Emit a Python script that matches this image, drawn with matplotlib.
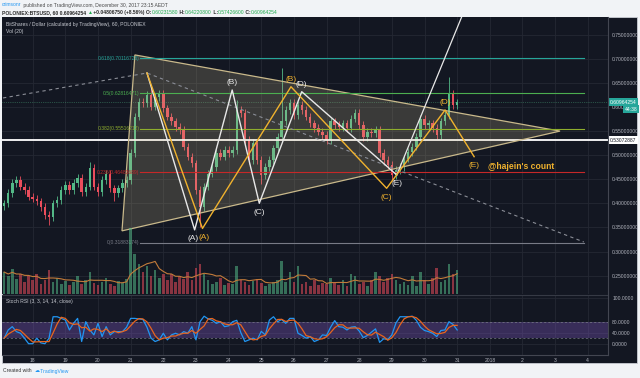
import matplotlib
matplotlib.use("Agg")
import matplotlib.pyplot as plt
from matplotlib.patches import Polygon, Rectangle
from matplotlib.lines import Line2D
import numpy as np
import pandas as pd

plt.rcParams['font.family'] = ['Liberation Sans', 'DejaVu Sans']

# ---------------- data ----------------
T0, STEP = 17.125, 0.125          # first candle (day of Dec 2017), 3h candles
FIRST_OPEN = 0.395
CLOSE = [
    0.400, 0.421, 0.442, 0.449, 0.435, 0.428, 0.414, 0.410,
    0.404, 0.393, 0.376, 0.372, 0.400, 0.407, 0.428, 0.438,
    0.428, 0.442, 0.452, 0.424, 0.435, 0.473, 0.435, 0.424,
    0.449, 0.462, 0.431, 0.421, 0.431, 0.442, 0.449, 0.504,
    0.580, 0.611, 0.608, 0.625, 0.601, 0.621, 0.628, 0.597,
    0.580, 0.570, 0.559, 0.552, 0.518, 0.497, 0.483, 0.428,
    0.393, 0.435, 0.462, 0.476, 0.504, 0.497, 0.511, 0.504,
    0.511, 0.594, 0.587, 0.532, 0.490, 0.525, 0.490, 0.459,
    0.476, 0.490, 0.514, 0.538, 0.570, 0.594, 0.608, 0.583,
    0.604, 0.594, 0.580, 0.566, 0.556, 0.549, 0.542, 0.532,
    0.570, 0.563, 0.559, 0.566, 0.556, 0.576, 0.587, 0.563,
    0.538, 0.549, 0.545, 0.552, 0.504, 0.490, 0.480, 0.459,
    0.469, 0.476, 0.493, 0.507, 0.518, 0.538, 0.576, 0.563,
    0.566, 0.556, 0.542, 0.570, 0.583, 0.628, 0.604, 0.6096,
]
HI_SPIKE = {68: 0.680, 109: 0.662, 36: 0.645, 57: 0.615, 21: 0.485}
LO_SPIKE = {48: 0.352, 11: 0.356, 63: 0.440, 95: 0.447, 27: 0.405}
VOLUME = [
    22, 18, 25, 15, 20, 12, 18, 14,
    20, 10, 14, 24, 12, 16, 10, 13,
    9, 12, 18, 10, 14, 22, 11, 9,
    12, 16, 10, 8, 13, 11, 15, 66,
    40, 30, 22, 28, 18, 24, 16, 20,
    14, 20, 12, 18, 15, 22, 14, 26,
    30, 20, 14, 10, 12, 16, 9, 11,
    10, 28, 14, 12, 9, 13, 15, 11,
    8, 10, 12, 14, 33, 12, 22, 12,
    28, 10, 12, 8, 14, 9, 11, 10,
    16, 12, 9, 14, 8, 20, 18, 10,
    12, 8, 14, 22, 18, 12, 16, 20,
    14, 10, 12, 9, 18, 8, 22, 14,
    10, 16, 26, 12, 14, 30, 20, 24,
]
STOCH_K = [
    20, 50, 62, 44, 38, 20, 0, 0,
    20, 3, 0, 20, 98, 98, 92, 86,
    50, 74, 92, 8, 80, 50, 32, 74,
    26, 62, 32, 44, 44, 44, 60, 92,
    92, 90, 88, 60, 20, 8, 14, 38,
    14, 32, 38, 32, 44, 38, 62, 14,
    80, 100, 90, 85, 74, 80, 62, 65,
    80, 85, 40, 8, 14, 20, 14, 45,
    32, 86, 98, 80, 88, 74, 92, 92,
    38, 30, 20, 26, 8, 14, 32, 30,
    60, 84, 62, 60, 50, 60, 62, 46,
    22, 30, 42, 54, 5, 18, 15, 32,
    75, 98, 98, 98, 100, 85, 60, 48,
    44, 38, 26, 48, 50, 80, 70, 50,
]

DAY_TICKS = list(range(18, 36))
DAY_LABELS = [str(d) for d in range(18, 32)] + ['2018', '2', '3', '4']
PRICE_TICKS = [0.25, 0.30, 0.35, 0.40, 0.45, 0.50, 0.55, 0.60, 0.65, 0.70, 0.75]
STOCH_TICKS = [0, 40, 80, 165]
STOCH_LABELS = ['0.0000', '40.0000', '80.0000', '100.0000']

TRIANGLE = [(21.13, 0.708), (20.735, 0.343), (34.15, 0.550)]
FIB_NAMES = ['0.618', '0.5', '0.382', '0.236', '0']
FIB_PRICES = [0.70116728, 0.62816471, 0.55516212, 0.46483689, 0.31883174]
FIB_COLORS = ['#26a69a', '#4caf50', '#8fae2e', '#c62828', '#787b86']
FIB_START, FIB_END = 21.3, 34.88

WAVE_DAYS_W = [21.50, 22.96, 24.11, 24.94, 26.24, 29.15]
WAVE_PRICES_W = [0.6705, 0.345, 0.6353, 0.4002, 0.6317, 0.459]
WAVE_DAYS_G = [21.50, 23.20, 25.91, 28.84, 30.63, 31.52]
WAVE_PRICES_G = [0.6705, 0.348, 0.642, 0.4313, 0.5938, 0.4969]
WAVE_LABELS = ['', '(A)', '(B)', '(C)', '(D)', '(E)']
RUN_DAYS, RUN_PRICES = [29.15, 31.4], [0.459, 0.83]
DASH_DAYS, DASH_PRICES = [17.09, 21.50, 34.88], [0.6187, 0.6705, 0.3199]
H_LEVEL = 0.53072887
LAST = 0.60964254

# ---------------- style ----------------
W, H = 640, 378
DARK = '#131722'
GRID = '#242833'
AXTXT = '#b2b5be'
UP, DOWN = '#53b987', '#eb4d5c'
TAN = '#c9b98b'
GOLD = '#f0b22e'
WHITE = '#e8e8e8'
FS = 3.6

fig = plt.figure(figsize=(W / 100, H / 100), dpi=100)
fig.patch.set_facecolor('#f1f3f6')


def px_axes(x0, y0, x1, y1):
    return fig.add_axes([x0 / W, 1 - y1 / H, (x1 - x0) / W, (y1 - y0) / H])


def fig_line(x0, y0, x1, y1, color='#363a45', lw=0.8):
    fig.add_artist(Line2D([x0 / W, x1 / W], [1 - y0 / H, 1 - y1 / H],
                          color=color, lw=lw, transform=fig.transFigure,
                          zorder=5))


def seq_text(x, y, parts, size=FS):
    r = fig.canvas.get_renderer()
    for s, color, weight in parts:
        t = fig.text(x / W, 1 - y / H, s, color=color, fontsize=size,
                     fontweight=weight, ha='left', va='center')
        x += t.get_window_extent(renderer=r).width


bg = Rectangle((2 / W, 1 - 363 / H), 635 / W, 346 / H,
               transform=fig.transFigure, facecolor=DARK,
               edgecolor='#c9ccd3', lw=0.6, zorder=-5)
fig.add_artist(bg)

# ---- main price pane ----
ax = px_axes(2, 17, 608, 294)
ax.set_facecolor(DARK)
ax.set_xlim(17.06, 35.62)
ax.set_ylim(0.2120, 0.7867)
ax.set_xticks(DAY_TICKS)
ax.set_yticks(PRICE_TICKS)
ax.yaxis.tick_right()
ax.set_yticklabels([f'{p:.8f}' for p in PRICE_TICKS])
ax.tick_params(axis='y', length=0, pad=3, labelsize=FS, labelcolor=AXTXT)
ax.tick_params(axis='x', length=0, labelbottom=False)
ax.grid(color=GRID, lw=0.6)
ax.set_axisbelow(True)
for s in ax.spines.values():
    s.set_visible(False)

c = np.array(CLOSE)
o = np.r_[FIRST_OPEN, c[:-1]]
t = T0 + STEP * np.arange(len(c))
hi = np.maximum(o, c) + 0.008
lo = np.minimum(o, c) - 0.008
for i, v in HI_SPIKE.items():
    hi[i] = v
for i, v in LO_SPIKE.items():
    lo[i] = v
col = np.where(c >= o, UP, DOWN)
ax.vlines(t, lo, hi, colors=col, lw=0.6, zorder=3)
ax.bar(t, np.maximum(np.abs(c - o), 0.002), bottom=np.minimum(o, c),
       width=0.075, color=col, zorder=3)

# horizontal lines
ax.axhline(H_LEVEL, color='white', lw=1.3, zorder=4)
ax.axhline(LAST, color=UP, lw=0.5, ls=':', alpha=0.7, zorder=4)

# triangle
ax.add_patch(Polygon(TRIANGLE, closed=True, facecolor=TAN, alpha=0.22,
                     edgecolor='none', zorder=5))
ax.add_patch(Polygon(TRIANGLE, closed=True, facecolor='none',
                     edgecolor=TAN, lw=0.9, zorder=5))

# fib retracement
for name, p, fc in zip(FIB_NAMES, FIB_PRICES, FIB_COLORS):
    ax.plot([FIB_START, FIB_END], [p, p], color=fc, lw=0.8, zorder=5)
    ax.text(FIB_START - 0.03, p, f'{name}({p:.8f})', color=fc, fontsize=FS,
            ha='right', va='center', zorder=6)

# dashed trendline
ax.plot(DASH_DAYS, DASH_PRICES, color='#8a8d96', lw=0.8, ls=(0, (3, 3)),
        zorder=5)

# wave counts
ax.plot(RUN_DAYS, RUN_PRICES, color=WHITE, lw=0.9, zorder=6)
ax.plot(WAVE_DAYS_W, WAVE_PRICES_W, color=WHITE, lw=1.0, zorder=6)
ax.plot(WAVE_DAYS_G, WAVE_PRICES_G, color=GOLD, lw=1.0, zorder=7)
for days, prices, color, dx in [(WAVE_DAYS_W, WAVE_PRICES_W, WHITE, -2),
                                (WAVE_DAYS_G, WAVE_PRICES_G, GOLD, 2)]:
    for k in range(1, len(days)):
        upward = prices[k] > prices[k - 1]
        ax.annotate(WAVE_LABELS[k], (days[k], prices[k]),
                    xytext=(dx if k == 1 else 0, 7 if upward else -9),
                    textcoords='offset pixels', ha='center', va='center',
                    color=color, fontsize=6, zorder=8)
ax.annotate("@hajein's count", (WAVE_DAYS_G[-1], WAVE_PRICES_G[-1]),
            xytext=(14, -10), textcoords='offset pixels', ha='left',
            va='center', color=GOLD, fontsize=6.2, fontweight='bold', zorder=8)

# axis price tags
tr = ax.get_yaxis_transform()
ax.text(1.003, LAST, f'{LAST:.8f}', transform=tr, fontsize=FS, color='white',
        ha='left', va='center', zorder=9, clip_on=False,
        bbox=dict(boxstyle='square,pad=0.3', fc='#26a69a', ec='none'))
ax.text(1.0485, 0.5955, '44:38', transform=tr, fontsize=FS, color='white',
        ha='right', va='center', zorder=9, clip_on=False,
        bbox=dict(boxstyle='square,pad=0.3', fc='#26a69a', ec='none'))
ax.text(1.003, H_LEVEL, f'{H_LEVEL:.8f}', transform=tr, fontsize=FS,
        color=DARK, ha='left', va='center', zorder=9, clip_on=False,
        bbox=dict(boxstyle='square,pad=0.3', fc='white', ec='none'))

# ---- volume overlay ----
vax = px_axes(2, 226, 608, 294)
vax.set_facecolor('none')
vax.set_xlim(ax.get_xlim())
vax.set_ylim(0, 68)
vax.bar(t, VOLUME, width=0.08, color=col, alpha=0.55)
vax.plot(t, pd.Series(VOLUME).rolling(7, min_periods=1).mean(),
         color='#c27b3a', lw=0.8)
vax.axis('off')

# ---- stoch RSI pane ----
sax = px_axes(2, 295, 608, 355)
sax.set_facecolor(DARK)
sax.set_xlim(ax.get_xlim())
sax.set_ylim(-41, 177)
sax.axhspan(20, 80, color='#7e57c2', alpha=0.35, lw=0)
for lvl in (20, 80):
    sax.axhline(lvl, color='#787b86', lw=0.5, ls=(0, (3, 3)))
k = pd.Series(STOCH_K)
sax.plot(t, k, color='#2196f3', lw=0.9)
sax.plot(t, k.rolling(3, min_periods=1).mean(), color='#e8651e', lw=0.9)
sax.set_xticks(DAY_TICKS)
sax.set_xticklabels(DAY_LABELS)
sax.set_yticks(STOCH_TICKS)
sax.set_yticklabels(STOCH_LABELS)
sax.yaxis.tick_right()
sax.tick_params(length=0, labelsize=FS, labelcolor=AXTXT)
sax.tick_params(axis='y', pad=3)
sax.tick_params(axis='x', pad=2)
sax.grid(color=GRID, lw=0.6)
sax.set_axisbelow(True)
for s in sax.spines.values():
    s.set_visible(False)

# pane borders
fig_line(2, 294.5, 608, 294.5)
fig_line(2, 355, 608, 355, color='#434651')
fig_line(608, 17, 608, 355, color='#434651')

# ---- texts ----
seq_text(2, 5, [('crimsonr', '#2196f3', 'normal'),
                (' published on TradingView.com, December 30, 2017 23:15 AEDT',
                 '#4a4a4a', 'normal')])
G = '#22ab50'
seq_text(2, 12.5, [('POLONIEX:BTSUSD, 60 0.60964254 ', '#2a2a2a', 'bold'),
                   ('▲', G, 'normal'),
                   (' +0.04806750 (+8.56%) O:', '#2a2a2a', 'bold'),
                   ('0.60231580', G, 'normal'), (' H:', '#2a2a2a', 'bold'),
                   ('0.64220800', G, 'normal'), (' L:', '#2a2a2a', 'bold'),
                   ('0.57426600', G, 'normal'), (' C:', '#2a2a2a', 'bold'),
                   ('0.60964254', G, 'normal')])
fig.text(6 / W, 1 - 24.5 / H,
         'BitShares / Dollar (calculated by TradingView), 60, POLONIEX',
         color='#c8cbd2', fontsize=FS, va='center')
fig.text(6 / W, 1 - 32 / H, 'Vol (20)', color='#c8cbd2', fontsize=FS,
         va='center')
fig.text(6 / W, 1 - 302 / H, 'Stoch RSI (3, 3, 14, 14, close)',
         color='#c8cbd2', fontsize=FS, va='center')
seq_text(3, 371, [('Created with  ', '#333333', 'normal'),
                  ('☁', '#2196f3', 'normal'),
                  (' TradingView', '#2196f3', 'normal')])

fig.savefig('out.png', dpi=100, facecolor=fig.get_facecolor())
